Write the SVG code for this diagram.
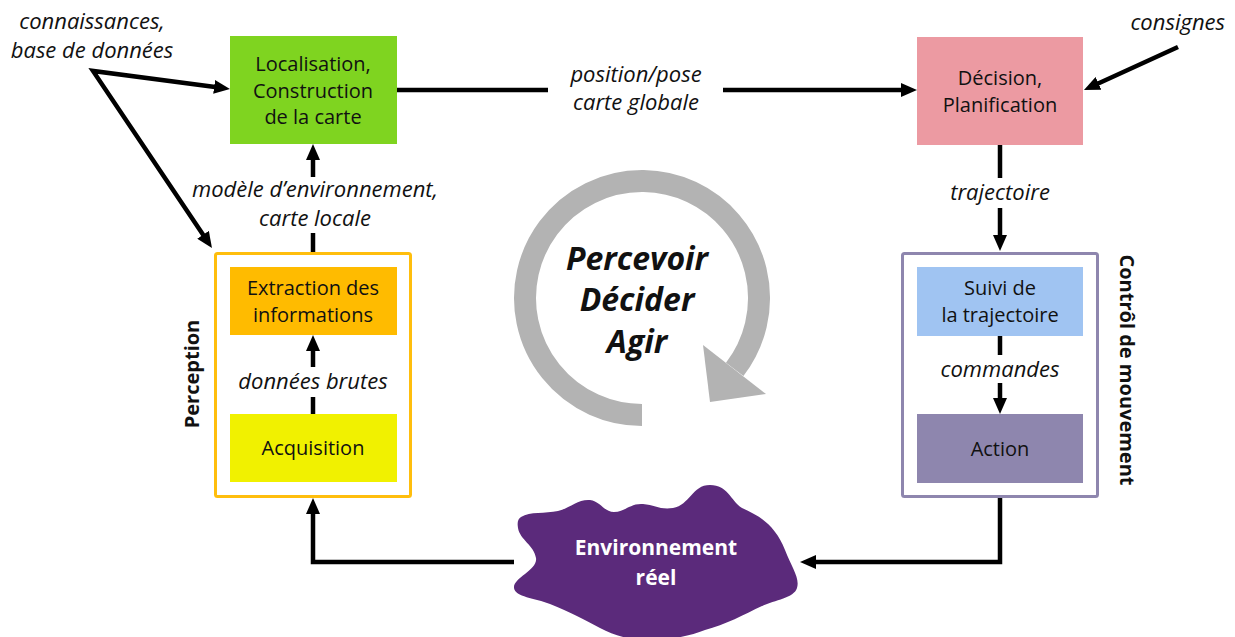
<svg xmlns="http://www.w3.org/2000/svg" width="1235" height="637" viewBox="0 0 1235 637">
  <style>
    .box { font-family: "Open Sans", "Noto Sans", "Liberation Sans", sans-serif; font-size: 20px; fill: #111; text-anchor: middle; }
    .lbl { font-family: "Open Sans", "Noto Sans", "Liberation Sans", sans-serif; font-size: 22px; font-style: italic; fill: #111; text-anchor: middle; }
    .side { font-family: "Open Sans", "Noto Sans", "Liberation Sans", sans-serif; font-size: 20px; font-weight: bold; fill: #111; text-anchor: middle; }
    .big { font-family: "Open Sans", "Noto Sans", "Liberation Sans", sans-serif; font-size: 32px; font-weight: bold; font-style: italic; fill: #111; text-anchor: middle; }
    .env { font-family: "Open Sans", "Noto Sans", "Liberation Sans", sans-serif; font-size: 21px; font-weight: bold; fill: #fff; text-anchor: middle; }
    .conn { fill: none; stroke: #000; stroke-width: 4.5; stroke-linejoin: miter; }
    .frame { fill: #fff; stroke-width: 3; }
  </style>
  <defs>
    <marker id="arrow" markerUnits="userSpaceOnUse" markerWidth="16" markerHeight="14" refX="1" refY="7" orient="auto-start-reverse">
      <path d="M0,0 L16,7 L0,14 Z" fill="#000"/>
    </marker>
  </defs>

  <rect width="1235" height="637" fill="#fff"/>

  <!-- cycle symbol -->
  <g id="cycle">
    <path d="M642,415 A117,117 0 1 1 734.7,369.4" fill="none" stroke="#b3b3b3" stroke-width="22"/>
    <polygon points="703,345 766,394 710,402" fill="#b3b3b3"/>
    <text class="big" x="637" y="270">Percevoir</text>
    <text class="big" x="637" y="311">Décider</text>
    <text class="big" x="637" y="353">Agir</text>
  </g>

  <!-- perception block -->
  <g id="perception">
    <rect class="frame" x="215.5" y="253.5" width="195" height="243" rx="2" stroke="#ffbe0d"/>
    <text class="side" transform="translate(199,374) rotate(-90)">Perception</text>
  </g>
  <g id="extraction">
    <rect x="230" y="267" width="167" height="68" fill="#ffbb00"/>
    <text class="box" x="313" y="294.5">Extraction des</text>
    <text class="box" x="313" y="321.5">informations</text>
  </g>
  <g id="acquisition">
    <rect x="230" y="414" width="167" height="68" fill="#f1f100"/>
    <text class="box" x="313" y="455">Acquisition</text>
  </g>

  <!-- localisation -->
  <g id="localisation">
    <rect x="230" y="36" width="167" height="108" fill="#7fd420"/>
    <text class="box" x="313" y="71">Localisation,</text>
    <text class="box" x="313" y="97.5">Construction</text>
    <text class="box" x="313" y="124">de la carte</text>
  </g>

  <!-- decision -->
  <g id="decision">
    <rect x="917" y="37" width="166" height="108" fill="#ec9aa2"/>
    <text class="box" x="1000" y="84.5">Décision,</text>
    <text class="box" x="1000" y="111.5">Planification</text>
  </g>

  <!-- motion control block -->
  <g id="controle">
    <rect class="frame" x="902.5" y="253.5" width="195" height="243" rx="2" stroke="#8e86ae"/>
    <text class="side" transform="translate(1120,370) rotate(90)">Contrôl de mouvement</text>
  </g>
  <g id="suivi">
    <rect x="917" y="267" width="166" height="69" fill="#a0c4f2"/>
    <text class="box" x="1000" y="295">Suivi de</text>
    <text class="box" x="1000" y="322">la trajectoire</text>
  </g>
  <g id="action">
    <rect x="917" y="414" width="166" height="69" fill="#8e86ae"/>
    <text class="box" x="1000" y="455.5">Action</text>
  </g>

  <!-- real environment -->
  <g id="environnement">
    <path d="M521,517 C530,511 545,514 558,511 C570,508 578,499 590,500 C600,501 604,512 614,512 C625,512 630,503 643,504 C655,505 660,510 673,508 C690,505 692,485 710,485 C728,485 730,500 742,508 C760,516 775,525 785,550 C792,568 800,578 797,588 C794,598 775,600 762,606 C745,614 725,625 705,630 C690,636 670,640 650,640 C630,640 615,636 600,628 C585,620 570,612 550,604 C535,598 515,597 514,588 C513,578 538,570 536,558 C534,545 520,540 518,528 C517,522 518,519 521,517 Z" fill="#5b2a7b"/>
    <text class="env" x="656" y="555">Environnement</text>
    <text class="env" x="656" y="585">réel</text>
  </g>

  <!-- external inputs -->
  <g id="connaissances">
    <text class="lbl" x="92" y="29">connaissances,</text>
    <text class="lbl" x="92" y="58">base de données</text>
  </g>
  <g id="consignes">
    <text class="lbl" x="1225" y="30" style="text-anchor:end">consignes</text>
  </g>

  <!-- connectors -->
  <g id="connectors">
    <path class="conn" d="M215.1,87.05 L93,71 L203.6,235.6" marker-start="url(#arrow)" marker-end="url(#arrow)"/>
    <path class="conn" d="M1178,47 L1097.6,83.8" marker-end="url(#arrow)"/>
    <path class="conn" d="M397,90 H548"/>
    <path class="conn" d="M723,90 H902" marker-end="url(#arrow)"/>
    <path class="conn" d="M313,252 V233"/>
    <path class="conn" d="M313,177 V159" marker-end="url(#arrow)"/>
    <path class="conn" d="M313,414 V397"/>
    <path class="conn" d="M313,367 V350" marker-end="url(#arrow)"/>
    <path class="conn" d="M1000,145 V178"/>
    <path class="conn" d="M1000,208 V236" marker-end="url(#arrow)"/>
    <path class="conn" d="M1000,336 V355"/>
    <path class="conn" d="M1000,383 V399" marker-end="url(#arrow)"/>
    <path class="conn" d="M1000,498 V562 H815" marker-end="url(#arrow)"/>
    <path class="conn" d="M514,562 H313 V513" marker-end="url(#arrow)"/>

    <!-- connector labels -->
    <text class="lbl" x="636" y="81.5">position/pose</text>
    <text class="lbl" x="636" y="110">carte globale</text>
    <text class="lbl" x="315" y="197">modèle d’environnement,</text>
    <text class="lbl" x="315" y="226">carte locale</text>
    <text class="lbl" x="313" y="389">données brutes</text>
    <text class="lbl" x="1000" y="200">trajectoire</text>
    <text class="lbl" x="1000" y="377">commandes</text>
  </g>
</svg>
